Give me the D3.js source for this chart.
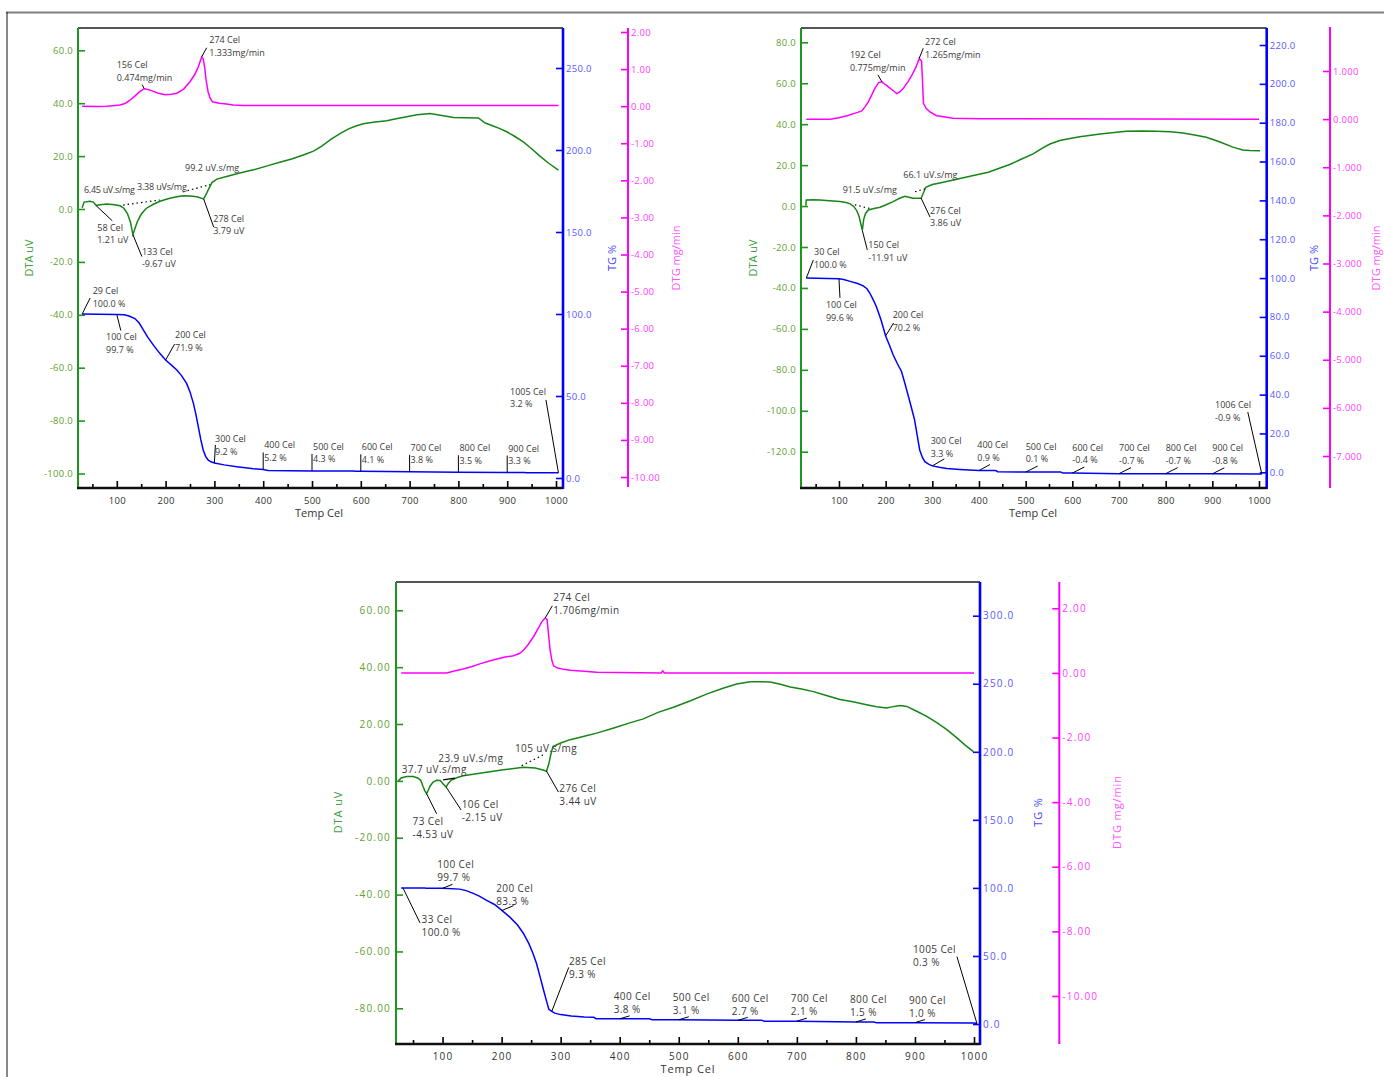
<!DOCTYPE html>
<html lang="en">
<head>
<meta charset="UTF-8">
<title>DTA / TG / DTG</title>
<script src="https://d3js.org/d3.v7.min.js"></script>
<style>
  body { margin: 0; background: #fff; }
  svg text { font-family: "Open Sans", sans-serif; }
</style>
</head>
<body>
<div id="chart"></div>
<script>

// ---------- data: panel 1 (top left) ----------
var p1Dta = [[29,0.5],[33,2.6],[45,2.9],[52,2.6],[58,1.3],[65,1.6],[80,1.9],[95,1.6],[107,1.2],[115,0.2],[122,-1.8],[128,-5.0],[133,-9.7],[137,-7.5],[142,-4.8],[150,-2.0],[160,0.2],[175,1.8],[190,3.0],[205,3.9],[220,4.5],[236,5.0],[250,4.9],[264,4.6],[278,3.8],[283,5.5],[288,7.5],[295,10.0],[305,11.3],[325,12.3],[350,13.5],[380,14.8],[410,16.4],[434,17.7],[460,19.0],[485,20.6],[503,21.9],[520,23.8],[540,26.5],[560,28.8],[575,30.3],[590,31.4],[605,32.2],[625,32.8],[653,33.4],[675,34.2],[694,34.9],[715,35.6],[742,36.1],[760,35.5],[790,34.6],[815,34.5],[841,34.4],[855,32.5],[870,31.5],[885,30.4],[899,29.2],[915,27.5],[933,25.4],[950,22.8],[967,20.0],[985,17.3],[1005,14.7]];
var p1Dtg = [[29,0],[60,-0.01],[80,0],[107,0.03],[118,0.08],[127,0.16],[137,0.27],[147,0.39],[156,0.47],[164,0.45],[171,0.42],[185,0.35],[199,0.31],[212,0.32],[223,0.35],[237,0.46],[250,0.66],[260,0.86],[267,1.06],[274,1.33],[277,1.28],[280,1.05],[283,0.7],[287,0.39],[291,0.22],[296,0.12],[310,0.08],[325,0.06],[338,0.03],[360,0.02],[1005,0.02]];
var p1Tg = [[29,100],[100,99.7],[115,99.6],[125,98.8],[137,97.2],[146,94.5],[154,90.5],[163,86],[175,81],[188,76],[200,71.9],[212,68.8],[223,65.9],[233,62.3],[243,57.7],[250,52.5],[257,45.5],[262,39],[267,31.3],[272,23.5],[277,17.1],[282,13.2],[287,11.0],[293,9.9],[300,9.2],[320,8.0],[346,6.9],[380,5.6],[400,5.2],[410,4.6],[500,4.3],[585,4.3],[590,4.1],[600,4.1],[700,3.8],[800,3.5],[900,3.4],[935,3.4],[940,3.2],[1005,3.2]];
var p1DtaTicks = [-100,-80,-60,-40,-20,0,20,40,60];
var p1TgTicks = [0,50,100,150,200,250];
var p1DtgTicks = [-10,-9,-8,-7,-6,-5,-4,-3,-2,-1,0,1,2];
var p1DtgNotes = [[274,1.333,"274 Cel","1.333mg/min"],[156,0.474,"156 Cel","0.474mg/min"]];
var p1DtaNotes = [[58,1.21,"58 Cel","1.21 uV"],[133,-9.67,"133 Cel","-9.67 uV"],[278,3.79,"278 Cel","3.79 uV"]];
var p1TgNotes = [[29,100.0,"29 Cel","100.0 %"],[100,99.7,"100 Cel","99.7 %"],[200,71.9,"200 Cel","71.9 %"],[300,9.2,"300 Cel","9.2 %"],[400,5.2,"400 Cel","5.2 %"],[500,4.3,"500 Cel","4.3 %"],[600,4.1,"600 Cel","4.1 %"],[700,3.8,"700 Cel","3.8 %"],[800,3.5,"800 Cel","3.5 %"],[900,3.3,"900 Cel","3.3 %"],[1005,3.2,"1005 Cel","3.2 %"]];
var p1Areas = ["6.45 uV.s/mg","3.38 uVs/mg","99.2 uV.s/mg"];
var p1Baselines = [[[113,1.5],[188,3.4]],[[236,6.5],[291,9.2]]];

// ---------- data: panel 2 (top right) ----------
var p2Dta = [[29,0.2],[30,3.0],[45,3.1],[59,3.0],[80,2.6],[102,2.2],[115,1.7],[124,1.1],[132,-0.3],[138,-2.2],[143,-5.0],[146,-7.9],[150,-11.9],[153,-6.5],[157,-3.6],[163,-1.9],[175,-1.2],[188,-0.6],[200,0.5],[216,2.2],[230,3.8],[241,4.8],[250,4.3],[259,3.8],[276,3.8],[280,5.9],[286,9.2],[300,10.5],[316,11.3],[350,13.0],[388,14.9],[420,16.5],[445,18.6],[466,20.3],[488,22.6],[516,25.5],[535,28.2],[552,30.3],[573,32.0],[595,33.0],[616,33.9],[640,34.6],[659,35.2],[690,35.9],[716,36.5],[750,36.7],[780,36.6],[810,36.3],[837,35.7],[862,34.7],[887,33.6],[915,31.4],[944,28.8],[965,27.4],[980,27.1],[1002,27.0]];
var p2Dtg = [[30,0],[81,0.0],[100,0.03],[117,0.07],[140,0.14],[149,0.17],[156,0.26],[163,0.36],[170,0.5],[177,0.64],[185,0.76],[192,0.775],[199,0.72],[206,0.67],[215,0.6],[224,0.53],[231,0.57],[238,0.64],[248,0.78],[256,0.91],[265,1.08],[272,1.265],[277,1.2],[279,0.8],[281,0.33],[287,0.22],[295,0.15],[309,0.07],[325,0.05],[344,0.02],[400,0.01],[1000,0.0]];
var p2Tg = [[30,100],[100,99.6],[110,99.3],[124,98.3],[140,97.2],[152,96.0],[160,94.5],[166,92.3],[173,89],[180,85.4],[190,78.5],[200,70.2],[208,65.5],[216,60.5],[225,56],[234,51.9],[241,46],[248,39.8],[255,33.5],[262,27],[268,18.5],[273,11.5],[279,7.5],[284,5.5],[292,4.2],[300,3.3],[315,2.6],[331,2.0],[359,1.5],[400,0.9],[436,0.9],[440,0.3],[500,0.1],[575,0.1],[580,-0.4],[600,-0.4],[700,-0.7],[800,-0.7],[900,-0.8],[1006,-0.9]];
var p2DtaTicks = [-120,-100,-80,-60,-40,-20,0,20,40,60,80];
var p2TgTicks = [0,20,40,60,80,100,120,140,160,180,200,220];
var p2DtgTicks = [-7,-6,-5,-4,-3,-2,-1,0,1];
var p2DtgNotes = [[272,1.265,"272 Cel","1.265mg/min"],[192,0.775,"192 Cel","0.775mg/min"]];
var p2DtaNotes = [[150,-11.91,"150 Cel","-11.91 uV"],[276,3.86,"276 Cel","3.86 uV"]];
var p2TgNotes = [[30,100.0,"30 Cel","100.0 %"],[100,99.6,"100 Cel","99.6 %"],[200,70.2,"200 Cel","70.2 %"],[300,3.3,"300 Cel","3.3 %"],[400,0.9,"400 Cel","0.9 %"],[500,0.1,"500 Cel","0.1 %"],[600,-0.4,"600 Cel","-0.4 %"],[700,-0.7,"700 Cel","-0.7 %"],[800,-0.7,"800 Cel","-0.7 %"],[900,-0.8,"900 Cel","-0.8 %"],[1006,-0.9,"1006 Cel","-0.9 %"]];
var p2Areas = ["91.5 uV.s/mg","66.1 uV.s/mg"];
var p2Baselines = [[[134,0.6],[170,-1.4]],[[263,7],[284,8.4]]];

// ---------- data: panel 3 (bottom) ----------
var p3Dta = [[25,0],[30,1.0],[39,1.5],[50,1.5],[58,1.0],[63,0.2],[67,-2.0],[70,-3.5],[73,-4.5],[76,-3.2],[79,-1.8],[84,-0.4],[90,0.2],[96,0.1],[100,-0.8],[106,-2.15],[110,-0.8],[115,0.3],[125,1.2],[135,1.8],[163,2.7],[203,3.9],[237,4.8],[257,4.5],[270,3.8],[276,3.4],[280,6.0],[283,9.0],[287,12.1],[300,13.3],[316,14.5],[340,15.7],[361,16.8],[390,18.6],[417,20.4],[440,21.8],[465,24.1],[491,25.9],[520,28.2],[547,30.5],[575,32.6],[598,34.1],[621,34.9],[655,34.8],[672,34.0],[689,33.0],[710,32.2],[728,31.4],[750,30.0],[773,28.6],[795,27.8],[818,26.8],[835,26.1],[852,25.6],[865,26.2],[875,26.5],[886,26.2],[903,24.5],[920,22.7],[937,20.5],[954,18.0],[970,15.3],[985,12.6],[999,10.3]];
var p3Dtg = [[30,0.0],[107,0.0],[120,0.06],[135,0.12],[150,0.2],[163,0.28],[178,0.36],[192,0.43],[206,0.49],[220,0.53],[230,0.6],[237,0.7],[245,0.88],[254,1.12],[262,1.38],[268,1.58],[274,1.706],[277,1.65],[280,1.1],[282,0.73],[285,0.4],[288,0.22],[295,0.15],[305,0.11],[316,0.08],[340,0.05],[361,0.02],[470,0.0],[473,0.06],[476,0.0],[1000,0]];
var p3Tg = [[30,100],[70,100],[72,99.7],[100,99.7],[129,99.1],[140,98],[152,96.0],[163,93.8],[174,91.0],[188,87.8],[201,83.3],[214,78.5],[227,72.7],[237,66.5],[246,59.2],[253,52],[259,44.6],[265,35],[271,25],[276,17],[280,10.8],[285,9.3],[290,8.0],[300,6.9],[318,5.9],[340,5.2],[356,4.9],[360,3.9],[450,3.8],[455,3.1],[500,3.1],[600,2.7],[640,2.7],[645,2.1],[700,2.1],[800,1.5],[830,1.5],[835,1.0],[900,1.0],[1000,0.8],[1005,0.3]];
var p3DtaTicks = [-80,-60,-40,-20,0,20,40,60];
var p3TgTicks = [0,50,100,150,200,250,300];
var p3DtgTicks = [-10,-8,-6,-4,-2,0,2];
var p3DtgNotes = [[274,1.706,"274 Cel","1.706mg/min"]];
var p3DtaNotes = [[73,-4.53,"73 Cel","-4.53 uV"],[106,-2.15,"106 Cel","-2.15 uV"],[276,3.44,"276 Cel","3.44 uV"]];
var p3TgNotes = [[33,100.0,"33 Cel","100.0 %"],[100,99.7,"100 Cel","99.7 %"],[200,83.3,"200 Cel","83.3 %"],[285,9.3,"285 Cel","9.3 %"],[400,3.8,"400 Cel","3.8 %"],[500,3.1,"500 Cel","3.1 %"],[600,2.7,"600 Cel","2.7 %"],[700,2.1,"700 Cel","2.1 %"],[800,1.5,"800 Cel","1.5 %"],[900,1.0,"900 Cel","1.0 %"],[1005,0.3,"1005 Cel","0.3 %"]];
var p3Areas = ["37.7 uV.s/mg","23.9 uV.s/mg","105 uV.s/mg"];
var p3Baselines = [[[234,5.3],[270,9.1]]];
var p3Marks = [[[101,0.35],[121,0.95]]];

var xTicks = [100,200,300,400,500,600,700,800,900,1000];
var xMinor = [50,150,250,350,450,550,650,750,850,950];

// colours
var GREEN = "#1c961c", GREEN_LINE = "#168516", GREEN_TXT = "#62a030";
var BLUE = "#0000ff", BLUE_TXT = "#5757ff";
var MAG = "#ff00ff", MAG_TXT = "#ff3cff";
var NOTE = "#3a3a3a";

// ---------- layout ----------
function rep(a, n) { var r = []; for (var i = 0; i < n; i++) r.push(a); return r; }

var L1 = {
    left: 78, right: 563, top: 28, bottom: 488, xr: [68, 556],
    dta: [473.5, 50.3], tg: [478, 68], dtg: [477, 32],
    dtgX: 628, dtgTop: 28, dtgBottom: 487,
    decs: [1, 1, 2], tickFont: "9.5px", tickLs: "0.3px",
    noteFont: "9px", noteLs: "0px", lh: 12.5, titleFont: "11px", titleLs: "0px",
    dtaTitle: [29, 258], tgTitle: [612, 258], dtgTitle: [676, 258], xTitle: [319, 517],
    dtgLay: [[5,-9,7.6,-13.6],[-2,-4,-27.4,-20.4]],
    dtaLay: [[16,15,1,25.2],[9,22,9,20.4],[10,28,9.6,23]],
    tgLay: [[8,-16,10.5,-20],[4,16,-10.8,26],[9,-16,9.4,-21.7],[1,-18,0.6,-20.6]]
        .concat(rep([0,-17,1,-21], 6)).concat([[-12.5,-72.8,-48.4,-77.8]]),
    areaPos: [[84,193],[137,189.5],[185,171]],
    areaLs: ["-0.3px", "-0.2px", "0px"]
};
var L2 = {
    left: 801, right: 1266.7, top: 28, bottom: 488, xr: [792.3, 1259],
    dta: [451.7, 42.3], tg: [472.3, 45], dtg: [456, 71],
    dtgX: 1330, dtgTop: 27, dtgBottom: 488,
    decs: [1, 1, 3], tickFont: "9.5px", tickLs: "0.3px",
    noteFont: "9px", noteLs: "0px", lh: 12.5, titleFont: "11px", titleLs: "0px",
    dtaTitle: [753, 258], tgTitle: [1314, 258], dtgTitle: [1376, 258], xTitle: [1033, 517],
    dtgLay: [[4,-10,5.8,-13.2],[-4,-7,-32,-23.4]],
    dtaLay: [[5,19.5,6,17.8],[9,19,9,15.7]],
    tgLay: [[7,-18,7.7,-22.6],[1,19,-13,29.3],[8,-13,7,-17.8],[12,-7,-1.6,-21.6],[11,-6,-1.7,-22.3]]
        .concat(rep([12,-6,0,-22.5], 5)).concat([[-14,-62,-46.8,-65.7]]),
    areaPos: [[842.7,193],[903.3,177.5]],
    areaLs: ["0px", "0px"]
};
var L3 = {
    left: 396, right: 980, top: 582, bottom: 1044, xr: [383.5, 974],
    dta: [1008.3, 610.3], tg: [1024, 615.7], dtg: [996, 608.3],
    dtgX: 1059.3, dtgTop: 582, dtgBottom: 1044,
    decs: [2, 1, 2], tickFont: "10px", tickLs: "1.2px",
    noteFont: "10px", noteLs: "0.4px", lh: 13, titleFont: "11px", titleLs: "0.9px",
    dtaTitle: [338, 812], tgTitle: [1038, 812], dtgTitle: [1117, 812], xTitle: [688, 1073],
    dtgLay: [[7,-12,8,-17.2]],
    dtaLay: [[10,20,-14,31],[15,23,15.6,21.2],[12,21,12.8,20.5]],
    tgLay: [[17,35,18.6,34.8],[10,-4,-5.3,-20],[12,-5,-5.4,-19],[17,-44,17.2,-46.3]]
        .concat(rep([10,-3,-6,-18.8], 6)).concat([[-20,-67,-64,-71]]),
    areaPos: [[401.7,773.3],[438.3,761.7],[515,751.7]],
    areaLs: ["0.4px", "0.4px", "0.4px"]
};

var svg = d3.select("#chart").append("svg")
    .attr("width", 1384)
    .attr("height", 1077);

// page frame
svg.append("line").attr("x1", 6).attr("x2", 1384).attr("y1", 12.5).attr("y2", 12.5)
    .attr("stroke", "#808080").attr("stroke-width", 2);
svg.append("line").attr("x1", 7).attr("x2", 7).attr("y1", 12).attr("y2", 1077)
    .attr("stroke", "#111").attr("stroke-width", 1);

function fmt(dec) { return function(v) { return v.toFixed(dec); }; }

function styleAxis(ax, lineCol, txtCol, p) {
    ax.select(".domain").remove();
    ax.selectAll(".tick line").attr("stroke", lineCol).attr("stroke-width", 1.6);
    ax.selectAll(".tick text").attr("fill", txtCol)
        .style("font-size", p.tickFont).style("letter-spacing", p.tickLs);
}

function note(g, xs, ys, n, lay, p) {
    var ax = xs(n[0]), ay = ys(n[1]);
    g.append("line")
        .attr("x1", ax).attr("y1", ay)
        .attr("x2", ax + lay[0]).attr("y2", ay + lay[1])
        .attr("stroke", "#000").attr("stroke-width", 1);
    var t = g.append("text")
        .attr("fill", NOTE)
        .style("font-size", p.noteFont).style("letter-spacing", p.noteLs);
    t.append("tspan").attr("x", ax + lay[2]).attr("y", ay + lay[3]).text(n[2]);
    t.append("tspan").attr("x", ax + lay[2]).attr("y", ay + lay[3] + p.lh).text(n[3]);
}

function title(g, pos, txt, col, p, rotate) {
    g.append("text")
        .attr("transform", "translate(" + pos[0] + "," + pos[1] + ")" + (rotate ? " rotate(-90)" : ""))
        .attr("text-anchor", "middle")
        .attr("dy", rotate ? "0.35em" : 0)
        .attr("fill", col)
        .style("font-size", p.titleFont).style("letter-spacing", p.titleLs)
        .text(txt);
}

function drawPanel(p, d) {
    var g = svg.append("g");

    var x = d3.scaleLinear().domain([0, 1000]).range(p.xr);
    var yDta = d3.scaleLinear().domain([d.dtaTicks[0], d.dtaTicks[d.dtaTicks.length - 1]]).range(p.dta);
    var yTg = d3.scaleLinear().domain([d.tgTicks[0], d.tgTicks[d.tgTicks.length - 1]]).range(p.tg);
    var yDtg = d3.scaleLinear().domain([d.dtgTicks[0], d.dtgTicks[d.dtgTicks.length - 1]]).range(p.dtg);

    // top frame
    g.append("line").attr("x1", p.left).attr("x2", p.right).attr("y1", p.top).attr("y2", p.top)
        .attr("stroke", "#555").attr("stroke-width", 2);

    // DTA axis (left)
    var a1 = g.append("g").attr("transform", "translate(" + p.left + ",0)")
        .call(d3.axisLeft(yDta).tickValues(d.dtaTicks).tickSize(-7).tickPadding(5).tickFormat(fmt(p.decs[0])));
    styleAxis(a1, GREEN, GREEN_TXT, p);

    // TG axis (right)
    var a2 = g.append("g").attr("transform", "translate(" + p.right + ",0)")
        .call(d3.axisRight(yTg).tickValues(d.tgTicks).tickSize(-7).tickPadding(3).tickFormat(fmt(p.decs[1])));
    styleAxis(a2, BLUE, BLUE_TXT, p);

    // DTG axis (far right)
    var a3 = g.append("g").attr("transform", "translate(" + p.dtgX + ",0)")
        .call(d3.axisRight(yDtg).tickValues(d.dtgTicks).tickSize(-7).tickPadding(3).tickFormat(fmt(p.decs[2])));
    styleAxis(a3, MAG, MAG_TXT, p);
    g.append("line").attr("x1", p.dtgX).attr("x2", p.dtgX).attr("y1", p.dtgTop).attr("y2", p.dtgBottom)
        .attr("stroke", MAG).attr("stroke-width", 2);

    // x axis
    var a4 = g.append("g").attr("transform", "translate(0," + p.bottom + ")")
        .call(d3.axisBottom(x).tickValues(xTicks).tickSize(-7).tickPadding(9).tickFormat(d3.format("d")));
    styleAxis(a4, "#000", "#333", p);
    var a5 = g.append("g").attr("transform", "translate(0," + p.bottom + ")")
        .call(d3.axisBottom(x).tickValues(xMinor).tickSize(-4).tickFormat(""));
    styleAxis(a5, "#000", "#333", p);

    // curves
    var lineOf = function(ys) {
        return d3.line().x(function(v) { return x(v[0]); }).y(function(v) { return ys(v[1]); });
    };
    g.append("path").datum(d.dtg).attr("d", lineOf(yDtg))
        .attr("fill", "none").attr("stroke", MAG).attr("stroke-width", 1.5);
    g.append("path").datum(d.dta).attr("d", lineOf(yDta))
        .attr("fill", "none").attr("stroke", GREEN_LINE).attr("stroke-width", 1.5);
    g.append("path").datum(d.tg).attr("d", lineOf(yTg))
        .attr("fill", "none").attr("stroke", BLUE).attr("stroke-width", 1.5);

    // integration baselines
    d.baselines.forEach(function(b) {
        g.append("path").datum(b).attr("d", lineOf(yDta))
            .attr("fill", "none").attr("stroke", "#000").attr("stroke-width", 1.2)
            .attr("stroke-dasharray", "1.5,3");
    });
    (d.marks || []).forEach(function(b) {
        g.append("path").datum(b).attr("d", lineOf(yDta))
            .attr("fill", "none").attr("stroke", "#000").attr("stroke-width", 1.2);
    });

    // frame lines on top
    g.append("line").attr("x1", p.left).attr("x2", p.left).attr("y1", p.top).attr("y2", p.bottom)
        .attr("stroke", GREEN).attr("stroke-width", 2);
    g.append("line").attr("x1", p.right).attr("x2", p.right).attr("y1", p.top).attr("y2", p.bottom + 1)
        .attr("stroke", BLUE).attr("stroke-width", 2.6);
    g.append("line").attr("x1", p.left - 1).attr("x2", p.right).attr("y1", p.bottom).attr("y2", p.bottom)
        .attr("stroke", "#111").attr("stroke-width", 2.4);

    // annotations
    d.dtgNotes.forEach(function(n, i) { note(g, x, yDtg, n, p.dtgLay[i], p); });
    d.dtaNotes.forEach(function(n, i) { note(g, x, yDta, n, p.dtaLay[i], p); });
    d.tgNotes.forEach(function(n, i) { note(g, x, yTg, n, p.tgLay[i], p); });
    d.areas.forEach(function(txt, i) {
        g.append("text").attr("x", p.areaPos[i][0]).attr("y", p.areaPos[i][1])
            .attr("fill", NOTE).style("font-size", p.noteFont).style("letter-spacing", p.areaLs[i])
            .text(txt);
    });

    // titles
    title(g, p.dtaTitle, "DTA  uV", "#40a040", p, true);
    title(g, p.tgTitle, "TG  %", "#4848ff", p, true);
    title(g, p.dtgTitle, "DTG mg/min", "#ff55ff", p, true);
    title(g, p.xTitle, "Temp  Cel", "#333", p, false);
}

drawPanel(L1, {dta: p1Dta, tg: p1Tg, dtg: p1Dtg, dtaTicks: p1DtaTicks, tgTicks: p1TgTicks, dtgTicks: p1DtgTicks,
    dtgNotes: p1DtgNotes, dtaNotes: p1DtaNotes, tgNotes: p1TgNotes, areas: p1Areas, baselines: p1Baselines});
drawPanel(L2, {dta: p2Dta, tg: p2Tg, dtg: p2Dtg, dtaTicks: p2DtaTicks, tgTicks: p2TgTicks, dtgTicks: p2DtgTicks,
    dtgNotes: p2DtgNotes, dtaNotes: p2DtaNotes, tgNotes: p2TgNotes, areas: p2Areas, baselines: p2Baselines});
drawPanel(L3, {dta: p3Dta, tg: p3Tg, dtg: p3Dtg, dtaTicks: p3DtaTicks, tgTicks: p3TgTicks, dtgTicks: p3DtgTicks,
    dtgNotes: p3DtgNotes, dtaNotes: p3DtaNotes, tgNotes: p3TgNotes, areas: p3Areas, baselines: p3Baselines, marks: p3Marks});

</script>
</body>
</html>
